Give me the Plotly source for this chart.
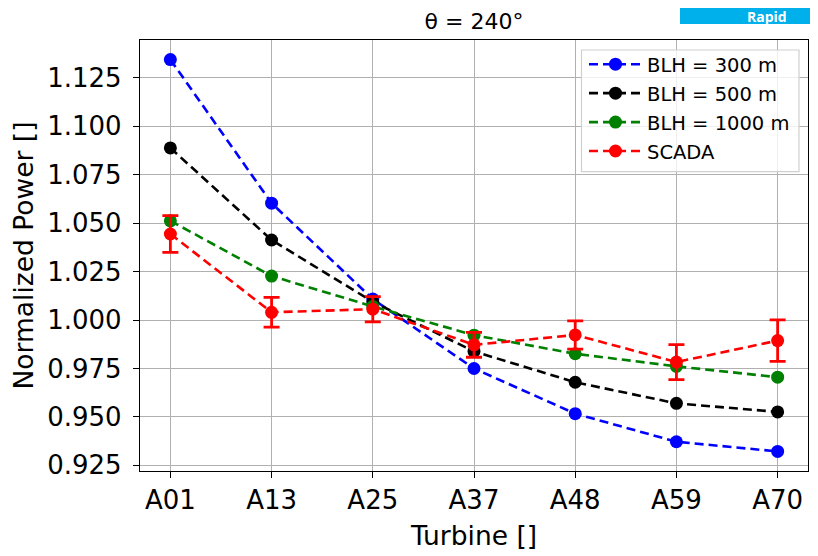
import plotly.graph_objects as go

turbines = ["A01", "A13", "A25", "A37", "A48", "A59", "A70"]
blh300 = [1.1344, 1.0603, 1.0108, 0.9750, 0.9517, 0.9372, 0.9322]
blh500 = [1.0888, 1.0413, 1.0094, 0.9838, 0.9679, 0.9570, 0.9526]
blh1000 = [1.0512, 1.0227, 1.0070, 0.9922, 0.9826, 0.9761, 0.9705]
scada = [1.0444, 1.0040, 1.0056, 0.9872, 0.9923, 0.9783, 0.9894]
scada_err = [0.0095, 0.0077, 0.0065, 0.0064, 0.0073, 0.0090, 0.0107]
y_ticks = [0.925, 0.95, 0.975, 1.0, 1.025, 1.05, 1.075, 1.1, 1.125]
y_ticktext = ["0.925", "0.950", "0.975", "1.000", "1.025", "1.050", "1.075", "1.100", "1.125"]

FONT = "DejaVu Sans"
xs = list(range(len(turbines)))

# page body has an 8px margin, so figure coords = page coords - 8
W, H = 810, 548
L, R, T, B = 132, 10, 32, 85
PW, PH = W - L - R, H - T - B


def px(page_x):
    return (page_x - 8 - L) / PW


def py(page_y):
    return (H - B - (page_y - 8)) / PH


fig = go.Figure()
series = [
    ("BLH = 300 m", blh300, "#0000ff"),
    ("BLH = 500 m", blh500, "#000000"),
    ("BLH = 1000 m", blh1000, "#008000"),
]
for i, (name, vals, col) in enumerate(series):
    fig.add_trace(go.Scatter(
        x=xs, y=vals, name=name, mode="lines+markers",
        line=dict(color=col, width=2.6, dash="9px,5px"),
        marker=dict(color=col, size=13),
        legendgroup=f"g{i}",
    ))
fig.add_trace(go.Scatter(
    x=xs, y=scada, name="SCADA", mode="lines+markers",
    line=dict(color="#ff0000", width=2.6, dash="9px,5px"),
    marker=dict(color="#ff0000", size=13),
    error_y=dict(type="data", array=scada_err, color="#ff0000", thickness=2.8, width=8),
    legendgroup="g3",
))

axis_common = dict(
    showgrid=True, gridcolor="#b0b0b0", gridwidth=1,
    showline=True, linecolor="#000000", linewidth=1.3, mirror=True,
    ticks="outside", ticklen=6, tickcolor="#000000", tickwidth=1.3,
    tickfont=dict(size=26, family=FONT), zeroline=False, automargin=False,
)

fig.update_layout(
    width=W, height=H,
    margin=dict(l=L, r=R, t=T, b=B),
    paper_bgcolor="white", plot_bgcolor="white",
    font=dict(family=FONT, color="#000000"),
    title=dict(text="θ = 240°", x=466 / W, xanchor="center", y=1 - 13 / H, yanchor="middle",
               font=dict(size=22, family=FONT)),
    showlegend=True,
    legend=dict(x=px(584), xanchor="left", y=py(45), yanchor="top",
                bgcolor="rgba(0,0,0,0)", borderwidth=0,
                font=dict(size=19.5, family=FONT), tracegroupgap=0.6,
                itemwidth=53),
    xaxis=dict(
        range=[-0.3, 6.3], tickvals=xs, ticktext=turbines,
        title=dict(text="Turbine []", font=dict(size=26.5, family=FONT), standoff=12),
        **axis_common,
    ),
    yaxis=dict(
        range=[0.9221, 1.1445], tickvals=y_ticks, ticktext=y_ticktext,
        ticklabelstandoff=6,
        title=dict(text="Normalized Power []", font=dict(size=26.5, family=FONT), standoff=8),
        **axis_common,
    ),
)

# legend frame (matplotlib-style box)
fig.add_shape(type="rect", xref="paper", yref="paper",
              x0=px(581.5), x1=px(799), y0=py(171.7), y1=py(50),
              fillcolor="rgba(255,255,255,0.8)", line=dict(color="#d0d0d0", width=1.2),
              layer="above")

# badge at top right (cropped in the source image)
fig.add_shape(type="rect", xref="paper", yref="paper",
              x0=px(680), x1=px(830), y0=py(24), y1=py(-2),
              fillcolor="#00b0ea", line=dict(width=0), layer="above")
fig.add_annotation(xref="paper", yref="paper", x=px(745), y=py(16.5),
                   xanchor="left", yanchor="middle", text="<b>Rapid</b>", showarrow=False,
                   font=dict(size=14, color="white", family="Open Sans"))

fig.write_html("out.html")
